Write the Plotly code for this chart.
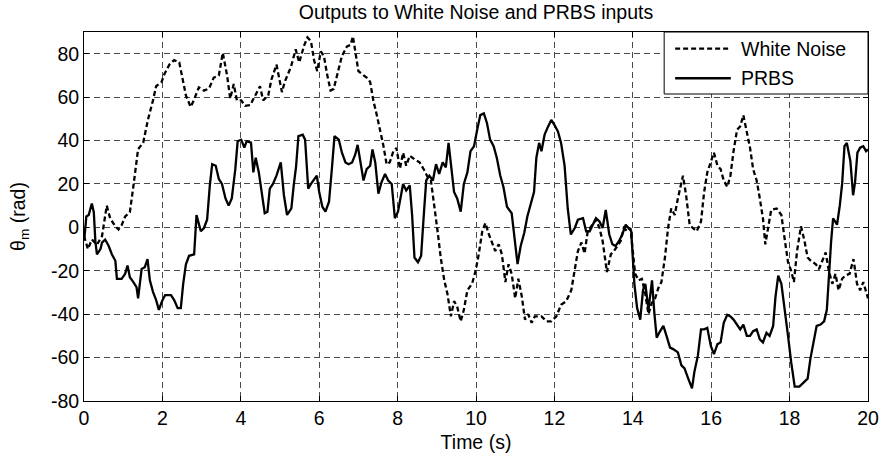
import plotly.graph_objects as go

# White Noise response (time s, angle rad)
wn_t = [0.0, 0.1, 0.2, 0.33, 0.46, 0.58, 0.67, 0.8, 0.88, 0.96, 1.05, 1.17, 1.26, 1.38, 1.51, 1.63, 1.76, 1.84,
        1.98, 2.05, 2.18, 2.3, 2.43, 2.52, 2.6, 2.72, 2.8, 2.93, 3.06, 3.19, 3.31, 3.44, 3.54, 3.65, 3.73, 3.82,
        3.9, 4.01, 4.11, 4.24, 4.36, 4.49, 4.57, 4.7, 4.78, 4.91, 5.05, 5.12, 5.28, 5.4, 5.49, 5.62, 5.7, 5.79,
        5.87, 5.95, 6.04, 6.12, 6.2, 6.29, 6.37, 6.46, 6.58, 6.71, 6.8, 6.86, 6.92, 7.0, 7.09, 7.21, 7.3, 7.38,
        7.47, 7.55, 7.64, 7.72, 7.8, 7.89, 7.97, 8.06, 8.14, 8.22, 8.31, 8.43, 8.56, 8.69, 8.77, 8.85, 8.94,
        9.02, 9.1, 9.19, 9.27, 9.36, 9.44, 9.52, 9.61, 9.69, 9.78, 9.9, 9.99, 10.07, 10.16, 10.24, 10.33,
        10.41, 10.49, 10.58, 10.66, 10.75, 10.83, 10.91, 11.0, 11.08, 11.17, 11.25, 11.33, 11.42, 11.5,
        11.67, 11.8, 11.92, 12.05, 12.17, 12.3, 12.43, 12.52, 12.6, 12.69, 12.77, 12.85, 12.98, 13.06,
        13.15, 13.23, 13.34, 13.44, 13.52, 13.6, 13.69, 13.77, 13.86, 13.94, 14.0, 14.06, 14.15, 14.23,
        14.31, 14.4, 14.48, 14.57, 14.65, 14.73, 14.82, 14.9, 14.98, 15.07, 15.15, 15.28, 15.36, 15.45,
        15.53, 15.63, 15.74, 15.82, 15.9, 15.99, 16.07, 16.16, 16.24, 16.32, 16.41, 16.49, 16.57, 16.66,
        16.74, 16.82, 16.91, 16.99, 17.07, 17.16, 17.24, 17.32, 17.38, 17.45, 17.53, 17.67, 17.79, 17.87,
        17.96, 18.04, 18.11, 18.19, 18.29, 18.38, 18.46, 18.54, 18.67, 18.75, 18.84, 18.92, 19.0, 19.09,
        19.17, 19.25, 19.34, 19.42, 19.53, 19.63, 19.72, 19.8, 19.88, 20.0]
wn_y = [-4, -10, -5.6, -8, -4, 10, 4, 0.5, -1, 1, 5, 7, 19, 36, 39, 49.5, 58.5, 65,
        67, 70.6, 75, 77, 76, 67.6, 60.8, 55.5, 58.5, 64.5, 63, 64, 69, 70, 80.4, 70, 59.3, 66,
        58.5, 58.5, 56, 56.3, 60.8, 65, 58.5, 60.8, 68, 75, 62.3, 67, 74, 82, 76, 84, 87.5, 85.7,
        77, 72, 81, 79, 70.6, 63, 63.8, 70.6, 79, 83.4, 84, 88, 81, 72, 70.6, 69, 67, 58.5,
        51.7, 45, 37.4, 29, 30, 35, 36.6, 27, 34.4, 28.4, 33, 31.4, 30, 26, 23, 21.6, 10,
        -1.8, -13.9, -24.4, -30.5, -41, -34, -36.5, -43.3, -38, -29, -26, -20, -12.4, -1.8, 2, -3.3,
        -7, -10.9, -7.8, -12.4, -25.2, -17, -21.4, -32.7, -23.7, -32, -42.5, -40, -44, -41,
        -41, -43.3, -43.3, -41, -35.7, -34, -29, -20, -10.9, -7, -12, -1.8, 1.2, 3.5,
        -0.3, -6.3, -20.6, -12.4, -10.9, -8.6, -6.3, -0.3, -1.8, -0.3, -10.9, -21.4, -24.4, -23.7,
        -29.7, -40, -35, -32.7, -28, -25.2, -13.9, -0.3, 8.7, 5.7, 13.3, 23.8, 14.8, 1.2,
        -0.3, -1.8, 2.7, 16.3, 25.3, 29.9, 34.4, 28.4, 26.8, 21.6, 18.6, 23.8, 35.1, 45,
        46.5, 51.7, 44.2, 36.7, 26.8, 21.6, 13.3, 4.2, -7.8, -0.3, 8, 8.7, 5.7, -4.8,
        -16.1, -20, -25.2, -10.9, 0.5, -6.3, -13.9, -15.4, -17, -19.2, -15.4, -11.6, -20, -26,
        -21.4, -29, -23.7, -22.2, -21.4, -14.6, -26, -29, -25.2, -32.7]

# PRBS response (time s, angle rad)
pr_t = [0.01, 0.06, 0.12, 0.2, 0.25, 0.29, 0.33, 0.42, 0.46, 0.54, 0.63, 0.71, 0.8, 0.84, 0.96, 1.05, 1.11,
        1.17, 1.26, 1.34, 1.38, 1.47, 1.55, 1.62, 1.68, 1.76, 1.84, 1.91, 1.99, 2.07, 2.22, 2.3, 2.39, 2.47,
        2.53, 2.6, 2.68, 2.81, 2.87, 2.92, 2.98, 3.06, 3.14, 3.21, 3.27, 3.36, 3.44, 3.52, 3.61, 3.69, 3.77,
        3.86, 3.92, 4.01, 4.09, 4.15, 4.26, 4.32, 4.38, 4.46, 4.53, 4.61, 4.68, 4.74, 4.82, 4.91, 5.02, 5.1,
        5.18, 5.29, 5.35, 5.41, 5.47, 5.58, 5.64, 5.72, 5.79, 5.87, 5.94, 6.0, 6.08, 6.16, 6.25, 6.33, 6.39,
        6.5, 6.58, 6.67, 6.75, 6.84, 6.92, 6.98, 7.05, 7.13, 7.21, 7.3, 7.36, 7.43, 7.51, 7.59, 7.68, 7.76,
        7.85, 7.93, 8.01, 8.07, 8.14, 8.22, 8.31, 8.37, 8.43, 8.52, 8.6, 8.66, 8.73, 8.81, 8.9, 8.98, 9.06,
        9.15, 9.23, 9.3, 9.36, 9.44, 9.52, 9.61, 9.69, 9.78, 9.86, 9.95, 10.03, 10.11, 10.2, 10.28, 10.36,
        10.45, 10.53, 10.62, 10.7, 10.79, 10.91, 10.98, 11.06, 11.14, 11.23, 11.31, 11.39, 11.48, 11.54,
        11.61, 11.67, 11.75, 11.84, 11.92, 12.0, 12.09, 12.17, 12.26, 12.34, 12.42, 12.52, 12.6, 12.73,
        12.81, 12.9, 12.98, 13.06, 13.15, 13.23, 13.31, 13.4, 13.48, 13.56, 13.65, 13.73, 13.82, 13.9,
        13.96, 14.01, 14.04, 14.11, 14.19, 14.26, 14.32, 14.4, 14.49, 14.55, 14.61, 14.69, 14.78, 14.86,
        14.95, 15.03, 15.15, 15.24, 15.32, 15.4, 15.51, 15.57, 15.66, 15.74, 15.82, 15.9, 15.99, 16.07,
        16.16, 16.24, 16.32, 16.41, 16.49, 16.57, 16.66, 16.74, 16.82, 16.91, 16.99, 17.07, 17.16, 17.24,
        17.32, 17.41, 17.49, 17.58, 17.64, 17.71, 17.79, 17.87, 17.96, 18.04, 18.13, 18.25, 18.38, 18.46,
        18.53, 18.61, 18.69, 18.79, 18.88, 18.95, 19.0, 19.06, 19.11, 19.21, 19.28, 19.34, 19.4, 19.46,
        19.55, 19.62, 19.67, 19.73, 19.8, 19.88, 19.95, 20.0]
pr_y = [-5, 5, 5.7, 11, 7, -6.3, -12.4, -10, -7, -5.6, -8.6, -12.4, -15.4, -23.7, -23.7, -21.4, -17.6,
        -23, -25.2, -27.5, -32.7, -19.2, -18.4, -14.6, -24.4, -29.7, -33.5, -38, -34, -31.2, -31.2, -33.5, -37.2, -37.2,
        -26, -17, -13.1, -12.4, 5.7, 2.7, -1.8, -0.3, 3.5, 19.3, 29.1, 28.4, 22.3, 20, 13.3, 10, 13.3,
        26.8, 39.7, 40.4, 36.7, 39.7, 39, 25.3, 32.1, 25.3, 16.3, 6.5, 7.2, 17.8, 20, 23.8, 29.9, 14.8,
        5.7, 8.7, 19.3, 28, 42, 42.7, 40.4, 17.8, 20, 22.3, 23.8, 16.3, 9.5, 7.2, 11.8, 28.4, 42,
        40.4, 34.4, 29.9, 29.1, 29.9, 33.6, 38, 29.9, 21.6, 26.8, 28.4, 35.9, 29.9, 15.5, 20.8, 24.6, 21.6,
        20, 4.2, 7.2, 12.5, 20, 17, 19.3, 5.7, -13.9, -16.1, -13.1, 3.5, 21.6, 23.8, 21.6, 29.1, 24.6,
        29.9, 27.6, 38.9, 28.4, 16.3, 13.3, 7.2, 20, 25.3, 35.1, 37.4, 45, 51.7, 52.5, 48, 40.4,
        37.4, 32.1, 23.8, 18.6, 9.5, 6.5, -4.8, -16.9, -8.6, -2.6, 5, 10, 16.3, 32.1,
        38.9, 35.1, 42.7, 46.5, 49.5, 47.2, 44.2, 38.9, 28.4, 8.7, -3.3, -0.3, 3.5, 4.2,
        -1.8, -1.8, 1.2, 4.2, 2.7, -0.3, 8, -3.3, -7.8, -8.6, -6.3, -3.3, 1.2, -0.3,
        -1.8, -17, -26, -37.2, -42.5, -29, -26, -38, -24.4, -39.5, -50.8, -48, -45.4, -50,
        -55.4, -56.1, -57.6, -63.6, -65, -69, -74.2, -66.7, -59.1, -47, -47, -46.3, -54.6, -58.4,
        -53.8, -53, -44, -40.3, -41, -42.5, -44.8, -47, -44.8, -50, -50, -47.8, -47, -51.6,
        -53, -48.6, -50, -45.4, -32, -22.2, -26, -36.5, -50, -62.1, -73.4, -73.4, -71.2, -69.7,
        -60.6, -53, -45.4, -44.8, -43.3, -38, -21.4, -6.3, 4.2, 1.2, 10, 20, 37.4, 38.9,
        30.6, 14.8, 20.8, 34.4, 36.7, 37.4, 35.1, 35.9]

x_ticks = [0, 2, 4, 6, 8, 10, 12, 14, 16, 18, 20]
y_ticks = [-80, -60, -40, -20, 0, 20, 40, 60, 80]
series_names = ["White Noise", "PRBS"]

FONT = "Liberation Sans, Arial, sans-serif"
FS = 19.5

fig = go.Figure()
fig.add_trace(go.Scatter(x=wn_t, y=wn_y, mode="lines", name=series_names[0], showlegend=False,
                         line=dict(color="black", width=2.3, dash="5px,3px")))
fig.add_trace(go.Scatter(x=pr_t, y=pr_y, mode="lines", name=series_names[1], showlegend=False,
                         line=dict(color="black", width=2.3)))

axis_common = dict(showline=True, linecolor="black", linewidth=1, mirror="ticks",
                   ticks="inside", ticklen=5, tickcolor="black",
                   showgrid=True, gridcolor="#4a4a4a", gridwidth=1, griddash="6px,4px",
                   zeroline=False, tickfont=dict(family=FONT, size=FS, color="black"))

fig.update_xaxes(range=[0, 20], tickvals=x_ticks, ticktext=[str(v) for v in x_ticks],
                 title=dict(text="Time (s)", font=dict(family=FONT, size=FS, color="black"), standoff=6),
                 **axis_common)
fig.update_yaxes(range=[-80, 90], tickvals=y_ticks, ticktext=[str(v) for v in y_ticks],
                 title=dict(text="θ<sub>m</sub> (rad)", font=dict(family=FONT, size=FS, color="black"), standoff=20),
                 **axis_common)

# Legend box (paper coordinates of the plot area)
lx0, lx1, ly0, ly1 = 0.740, 1.0, 0.832, 1.0
row_y = [0.9547, 0.8747]
shapes = [dict(type="rect", xref="paper", yref="paper", x0=lx0, x1=lx1, y0=ly0, y1=ly1,
               line=dict(color="black", width=1), fillcolor="white", layer="above")]
dashes = ["5px,3px", "solid"]
annotations = []
for name, yy, dsh in zip(series_names, row_y, dashes):
    shapes.append(dict(type="line", xref="paper", yref="paper", x0=0.754, x1=0.825, y0=yy, y1=yy,
                       line=dict(color="black", width=2.3, dash=dsh), layer="above"))
    annotations.append(dict(text=name, xref="paper", yref="paper", x=0.836, y=yy,
                            xanchor="left", yanchor="middle", showarrow=False,
                            font=dict(family=FONT, size=FS, color="black")))

fig.update_layout(
    width=891, height=461,
    margin=dict(l=84, r=13, t=32, b=54),
    paper_bgcolor="white", plot_bgcolor="white",
    title=dict(text="Outputs to White Noise and PRBS inputs", x=0.5, xref="paper", xanchor="center",
               y=1 - 12 / 461, yanchor="middle", font=dict(family=FONT, size=FS, color="black")),
    shapes=shapes,
    annotations=annotations,
)

fig.write_html("out.html")
